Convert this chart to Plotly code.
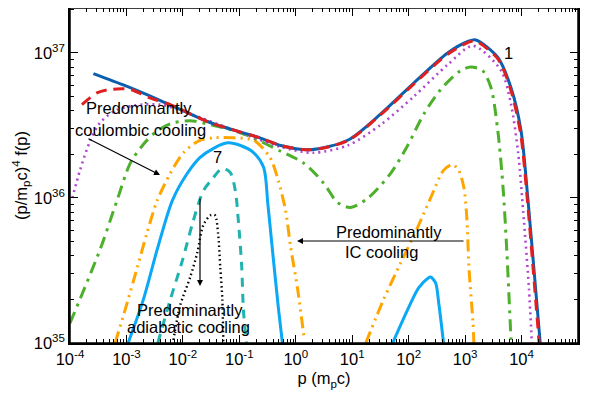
import plotly.graph_objects as go

# ---- data ----
p1 = [2.6e-4, 1.0e-3, 4.0e-3, 3.1e-2, 0.23, 0.54, 1.8, 8.3, 32, 123, 490, 1120, 1550, 3800, 6500, 9800, 12900, 16600, 21400]
f1 = [7.2e36, 5.9e36, 4.7e36, 3.3e36, 2.6e36, 2.3e36, 2.15e36, 2.5e36, 3.8e36, 6.2e36, 1.0e37, 1.2e37, 1.23e37, 9.3e36, 5.75e36, 2.9e36, 1.0e36, 3.2e35, 1.0e35]

p2 = [1.63e-4, 3.0e-4, 5.1e-4, 1.17e-3, 2.6e-3, 6.0e-3, 3.1e-2, 0.23, 0.54, 1.8, 8.3, 32, 123, 490, 1120, 1500, 3800, 6400, 9600, 12700, 16200, 20500]
f2 = [4.4e36, 5.3e36, 5.6e36, 5.6e36, 4.9e36, 4.4e36, 3.3e36, 2.6e36, 2.3e36, 2.15e36, 2.48e36, 3.75e36, 6.1e36, 9.8e36, 1.18e37, 1.21e37, 9.1e36, 5.6e36, 2.8e36, 9.6e35, 3.1e35, 1.0e35]

p3 = [1.1e-4, 1.5e-4, 2.3e-4, 3.4e-4, 6.3e-4, 1.4e-3, 4.0e-3, 1.35e-2, 0.069, 0.54, 2.0, 8.3, 32, 123, 490, 1380, 4300, 6450, 8700, 11000, 13500, 15200]
f3 = [1.0e36, 1.55e36, 2.5e36, 3.3e36, 4.0e36, 4.35e36, 4.4e36, 3.8e36, 3.0e36, 2.25e36, 2.05e36, 2.3e36, 3.2e36, 5.0e36, 8.3e36, 1.12e37, 7.6e36, 4.5e36, 2.05e36, 7.0e35, 2.4e35, 1.0e35]

p4 = [1.0e-4, 3.4e-4, 6.8e-4, 1.17e-3, 2.0e-3, 3.5e-3, 6.7e-3, 1.5e-2, 3.1e-2, 6.2e-2, 0.14, 0.54, 1.38, 3.1, 5.5, 9.3, 18.6, 48, 96, 186, 370, 830, 1260, 2040, 2880, 3800, 4700, 5500, 6500]
f4 = [1.37e35, 4.4e35, 9.6e35, 1.74e36, 2.35e36, 2.9e36, 3.3e36, 3.4e36, 3.2e36, 3.0e36, 2.7e36, 2.1e36, 1.74e36, 1.27e36, 9.3e35, 8.6e35, 9.9e35, 1.48e36, 2.3e36, 3.8e36, 5.6e36, 7.55e36, 8.0e36, 7.55e36, 5.75e36, 2.9e36, 1.18e36, 4.2e35, 1.05e35]

p5 = [6.3e-4, 9.5e-4, 1.55e-3, 2.3e-3, 3.5e-3, 6.0e-3, 1.02e-2, 2.0e-2, 3.5e-2, 7.8e-2, 0.18, 0.35, 0.49, 0.66, 0.81, 1.07, 1.42,
      None,
      17.4, 36, 72, 145, 245, 415, 600, 770, 950, 1070, 1170, 1380, 1430]
f5 = [1.0e35, 1.7e35, 3.3e35, 5.7e35, 9.6e35, 1.48e36, 2.05e36, 2.5e36, 2.6e36, 2.6e36, 2.5e36, 1.9e36, 1.32e36, 8.2e35, 4.6e35, 2.4e35, 1.05e35,
      None,
      1.0e35, 2.0e35, 3.55e35, 6.3e35, 1.0e36, 1.55e36, 1.7e36, 1.55e36, 1.18e36, 7.4e35, 3.3e35, 1.37e35, 1.0e35]

p6 = [1.07e-3, 2.0e-3, 3.5e-3, 6.5e-3, 1.2e-2, 2.0e-2, 3.5e-2, 6.2e-2, 0.105, 0.18, 0.27, 0.32, 0.39, 0.49, 0.58,
      None,
      52, 96, 150, 220, 245, 300, 340, 415]
f6 = [1.0e35, 2.0e35, 4.4e35, 9.6e35, 1.48e36, 1.9e36, 2.2e36, 2.4e36, 2.3e36, 2.05e36, 1.62e36, 9.1e35, 4.2e35, 1.77e35, 1.0e35,
      None,
      1.0e35, 1.7e35, 2.4e35, 2.8e35, 2.85e35, 2.6e35, 1.9e35, 1.0e35]

p7 = [3.6e-3, 6.0e-3, 9.8e-3, 1.5e-2, 2.3e-2, 3.3e-2, 5.0e-2, 6.9e-2, 8.5e-2, 9.6e-2, 0.11, 0.118, 0.133]
f7 = [1.0e35, 2.0e35, 3.7e35, 6.8e35, 1.12e36, 1.35e36, 1.6e36, 1.5e36, 1.12e36, 7.0e35, 3.4e35, 1.7e35, 1.0e35]

p8 = [6.8e-3, 8.9e-3, 1.35e-2, 1.8e-2, 2.3e-2, 3.1e-2, 3.7e-2, 4.2e-2, 4.6e-2, 5.0e-2, 5.2e-2]
f8 = [1.05e35, 1.8e35, 2.85e35, 4.2e35, 6.5e35, 7.6e35, 7.6e35, 5.7e35, 3.3e35, 2.0e35, 1.0e35]

x_tickvals = [1e-4, 1e-3, 1e-2, 1e-1, 1e0, 1e1, 1e2, 1e3, 1e4, 1e5]
x_ticktext = ["10<sup>-4</sup>", "10<sup>-3</sup>", "10<sup>-2</sup>", "10<sup>-1</sup>", "10<sup>0</sup>",
              "10<sup>1</sup>", "10<sup>2</sup>", "10<sup>3</sup>", "10<sup>4</sup>", "10<sup>5</sup>"]
y_tickvals = [1e35, 1e36, 1e37]
y_ticktext = ["10<sup>35</sup>", "10<sup>36</sup>", "10<sup>37</sup>"]

FONT = "Liberation Sans, Arial, sans-serif"
FS = 16.5

series = [
    (p8, f8, "black", "1.5px,3px", 2.4),
    (p7, f7, "#1fb3b0", "9px,7px", 3),
    (p6, f6, "#0aa8f5", "solid", 3),
    (p5, f5, "#ffa500", "12px,5px,2px,5px,2px,5px", 3),
    (p4, f4, "#4cb02a", "12px,6px,3px,6px", 3),
    (p3, f3, "#b048d0", "2px,4px", 2.6),
    (p1, f1, "#0b5fad", "solid", 3),
    (p2, f2, "#e02020", "11px,7px", 3),
]

fig = go.Figure()
for px_, fy, col, dash, w in series:
    fig.add_trace(go.Scatter(x=px_, y=fy, mode="lines", connectgaps=False,
                             line=dict(color=col, dash=dash, width=w, shape="spline", smoothing=0.8),
                             showlegend=False, hoverinfo="skip"))

tick_common = dict(
    type="log", showgrid=False, zeroline=False, showline=True, linecolor="black", linewidth=1.5,
    mirror="allticks", ticks="inside", ticklen=8, tickwidth=1.2, tickcolor="black", automargin=False,
    tickfont=dict(family=FONT, size=FS, color="black"),
    minor=dict(ticks="inside", ticklen=4, tickwidth=1, tickcolor="black", dtick="D1", showgrid=False),
)

fig.update_layout(
    xaxis=dict(**tick_common, range=[-4, 5], tickmode="array", tickvals=x_tickvals, ticktext=x_ticktext,
               title=dict(text="p (m<sub>p</sub>c)", font=dict(family=FONT, size=FS, color="black"), standoff=6)),
    yaxis=dict(**tick_common, range=[35, 37.31], tickmode="array", tickvals=y_tickvals, ticktext=y_ticktext,
               title=dict(text="(p/m<sub>p</sub>c)<sup>4</sup> f(p)", font=dict(family=FONT, size=FS, color="black"), standoff=2)),
)

# frame around the plotting area
fig.add_shape(type="rect", xref="paper", yref="paper", x0=0, y0=0, x1=1, y1=1,
              line=dict(color="black", width=1.5), fillcolor="rgba(0,0,0,0)", layer="above")

def txt(x, y, s):
    fig.add_annotation(x=x, y=y, xref="paper", yref="paper", text=s, showarrow=False,
                       font=dict(family=FONT, size=FS, color="black"), xanchor="center", yanchor="middle")

# plot area in window pixels: x 70..578, y 8..343
def px2paper(px, py):
    return (px - 70) / 508, (343 - py) / 335

for (px, py, s) in [(139, 108, "Predominantly"), (140, 130, "coulombic cooling"),
                    (217, 157, "7"), (508, 53, "1"),
                    (389, 232, "Predominantly"), (381, 252, "IC cooling"),
                    (190, 310, "Predominantly"), (188, 327, "adiabatic cooling")]:
    x, y = px2paper(px, py)
    txt(x, y, s)

for (hx, hy, ax, ay) in [(160, 175, -73, -37), (297, 241, 168, 0), (200, 286, 0, -89)]:
    x, y = px2paper(hx, hy)
    fig.add_annotation(x=x, y=y, xref="paper", yref="paper", text="", showarrow=True,
                       ax=ax, ay=ay, arrowhead=2, arrowsize=1, arrowwidth=1.2, arrowcolor="black")

# page body has an 8px margin: figure occupies window pixels 8..590 x 8..403
fig.update_layout(width=582, height=395, margin=dict(l=62, r=12, t=0, b=60),
                  plot_bgcolor="white", paper_bgcolor="white",
                  font=dict(family=FONT, size=FS, color="black"))

fig.write_html("out.html")
